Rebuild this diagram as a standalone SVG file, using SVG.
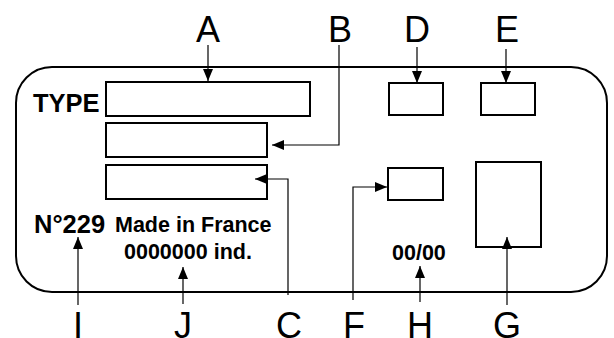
<svg xmlns="http://www.w3.org/2000/svg" width="614" height="338" viewBox="0 0 614 338">
<defs>
<marker id="ah" viewBox="0 0 12 10" refX="12" refY="5" markerWidth="12" markerHeight="10" markerUnits="userSpaceOnUse" orient="auto">
<path d="M0,0 L12,5 L0,10 Z" fill="#000"/>
</marker>
<style>
.box{fill:#fff;stroke:#000;stroke-width:2}
.frame{fill:none;stroke:#000;stroke-width:2}
.conn{fill:none;stroke:#000;stroke-width:1.2}
.lbl{font-family:"Liberation Sans",Arial,sans-serif;font-size:36px;fill:#000;text-anchor:middle}
.bt{font-family:"Liberation Sans",Arial,sans-serif;font-weight:bold;fill:#000}
</style>
</defs>
<rect width="614" height="338" fill="#fff"/>
<rect id="frame" class="frame" x="16" y="67" width="591" height="225" rx="36" ry="36"/>

<g id="texts">
<text class="bt" x="33" y="112" font-size="25.5">TYPE</text>
<text class="bt" x="34" y="233" font-size="25.5">N°229</text>
<text class="bt" x="115" y="232" font-size="21.5">Made in France</text>
<text class="bt" x="124" y="259" font-size="21.5">0000000 ind.</text>
<text class="bt" x="392" y="260" font-size="21.5">00/00</text>
</g>

<g id="nodeA"><rect class="box" x="106" y="82" width="204" height="34"/></g>
<g id="nodeB"><rect class="box" x="106" y="123" width="161" height="34"/></g>
<g id="nodeC"><rect class="box" x="106" y="165" width="161" height="34"/></g>
<g id="nodeD"><rect class="box" x="389" y="83" width="54" height="32"/></g>
<g id="nodeE"><rect class="box" x="481" y="83" width="54" height="32"/></g>
<g id="nodeF"><rect class="box" x="388" y="168" width="55" height="32"/></g>
<g id="nodeG"><rect class="box" x="476" y="162" width="65" height="85"/></g>

<g id="connectors">
<path class="conn" d="M208,45 V81" marker-end="url(#ah)"/>
<path class="conn" d="M339,45 V145 H272" marker-end="url(#ah)"/>
<path class="conn" d="M417,47 V83" marker-end="url(#ah)"/>
<path class="conn" d="M506,49 V83" marker-end="url(#ah)"/>
<path class="conn" d="M288,295 V179 H255" marker-end="url(#ah)"/>
<path class="conn" d="M353,300 V187 H387" marker-end="url(#ah)"/>
<path class="conn" d="M420,302 V266" marker-end="url(#ah)"/>
<path class="conn" d="M507,305 V237" marker-end="url(#ah)"/>
<path class="conn" d="M78,305 V237" marker-end="url(#ah)"/>
<path class="conn" d="M183,304 V267" marker-end="url(#ah)"/>
</g>

<g id="labels">
<text class="lbl" x="208" y="42">A</text>
<text class="lbl" x="340" y="42">B</text>
<text class="lbl" x="417" y="42">D</text>
<text class="lbl" x="507" y="42">E</text>
<text class="lbl" x="78" y="338">I</text>
<text class="lbl" x="183" y="338">J</text>
<text class="lbl" x="289" y="338">C</text>
<text class="lbl" x="354" y="338">F</text>
<text class="lbl" x="420" y="338">H</text>
<text class="lbl" x="507" y="338">G</text>
</g>
</svg>
